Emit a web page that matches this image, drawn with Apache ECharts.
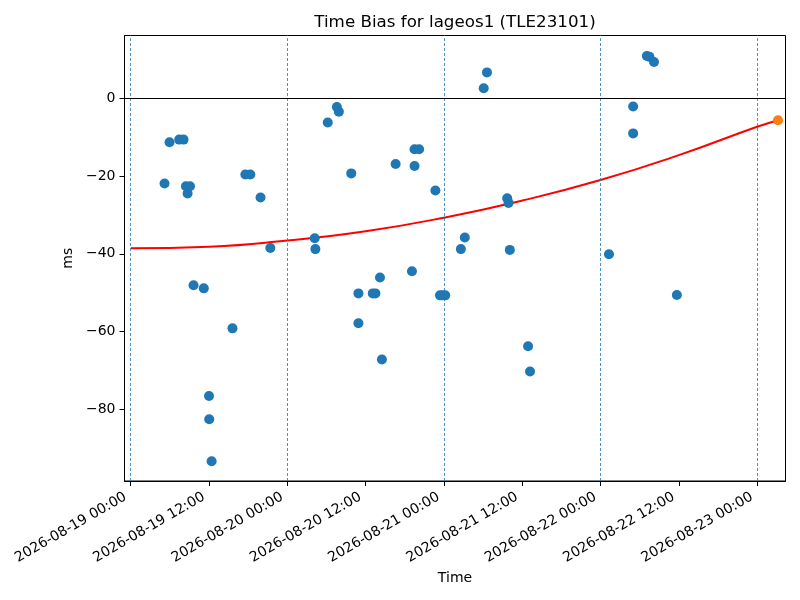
<!DOCTYPE html>
<html>
<head>
<meta charset="utf-8">
<script src="https://cdn.jsdelivr.net/npm/echarts@6/dist/echarts.min.js"></script>
<style>
  html, body { margin: 0; padding: 0; background: #fff; }
  #chart { width: 800px; height: 600px; }
</style>
</head>
<body>
<div id="chart"></div>
<script>
// observed bias points (UTC)
var biasTimes = [
    '2026-08-19 05:11', '2026-08-19 05:57', '2026-08-19 07:26', '2026-08-19 08:06',
    '2026-08-19 08:28', '2026-08-19 08:43', '2026-08-19 09:05', '2026-08-19 09:38',
    '2026-08-19 11:12', '2026-08-19 12:00', '2026-08-19 12:02', '2026-08-19 12:24',
    '2026-08-19 15:36', '2026-08-19 17:34', '2026-08-19 18:20', '2026-08-19 19:54',
    '2026-08-19 21:24', '2026-08-20 04:12', '2026-08-20 04:18', '2026-08-20 06:12',
    '2026-08-20 07:36', '2026-08-20 07:54', '2026-08-20 09:48', '2026-08-20 10:54',
    '2026-08-20 10:54', '2026-08-20 13:06', '2026-08-20 13:30', '2026-08-20 14:12',
    '2026-08-20 14:30', '2026-08-20 16:36', '2026-08-20 19:06', '2026-08-20 19:30',
    '2026-08-20 19:30', '2026-08-20 20:12', '2026-08-20 22:42', '2026-08-20 23:24',
    '2026-08-20 23:48', '2026-08-21 00:12', '2026-08-21 02:36', '2026-08-21 03:12',
    '2026-08-21 06:06', '2026-08-21 06:36', '2026-08-21 09:42', '2026-08-21 09:54',
    '2026-08-21 10:06', '2026-08-21 12:54', '2026-08-21 13:12', '2026-08-22 01:18',
    '2026-08-22 05:00', '2026-08-22 05:00', '2026-08-22 07:06', '2026-08-22 07:30',
    '2026-08-22 08:12', '2026-08-22 11:42'
];
var biasValues = [
    -21.9, -11.3, -10.6, -10.6,
    -22.6, -24.5, -22.6, -48.1,
    -48.9, -76.6, -82.6, -93.4,
    -59.2, -19.6, -19.6, -25.5,
    -38.5, -36.0, -38.8, -6.2,
    -2.2, -3.4, -19.3, -50.2,
    -57.9, -50.2, -50.2, -46.1,
    -67.2, -16.9, -44.5, -13.1,
    -17.4, -13.1, -23.7, -50.7,
    -50.7, -50.7, -38.8, -35.8,
    2.6, 6.7, -25.7, -26.9,
    -39.0, -63.8, -70.3, -40.1,
    -2.1, -9.0, 10.9, 10.7,
    9.4, -50.6
];

// fitted curve
var fitTimes = [
    '2026-08-19 00:00', '2026-08-19 12:00', '2026-08-20 00:00', '2026-08-20 12:00',
    '2026-08-21 00:00', '2026-08-21 12:00', '2026-08-22 00:00', '2026-08-22 12:00',
    '2026-08-23 00:00', '2026-08-23 03:12'
];
var fitValues = [-38.6, -38.2, -36.6, -34.2, -30.7, -26.3, -21.0, -14.6, -7.3, -5.6];

// predicted point
var predTimes = ['2026-08-23 03:12'];
var predValues = [-5.6];

var dayLines = ['2026-08-19 00:00', '2026-08-20 00:00', '2026-08-21 00:00', '2026-08-22 00:00', '2026-08-23 00:00'];
var xTicks = [
    '2026-08-19 00:00', '2026-08-19 12:00', '2026-08-20 00:00', '2026-08-20 12:00',
    '2026-08-21 00:00', '2026-08-21 12:00', '2026-08-22 00:00', '2026-08-22 12:00',
    '2026-08-23 00:00'
];
var yTicks = [-80, -60, -40, -20, 0];

function toTs(s) {
    var p = s.split(/[- :]/).map(Number);
    return Date.UTC(p[0], p[1] - 1, p[2], p[3], p[4]);
}
function pad(n) { return (n < 10 ? '0' : '') + n; }
function fmtTs(v) {
    var d = new Date(v);
    return d.getUTCFullYear() + '-' + pad(d.getUTCMonth() + 1) + '-' + pad(d.getUTCDate()) +
        ' ' + pad(d.getUTCHours()) + ':' + pad(d.getUTCMinutes());
}
function pairs(times, values) {
    return times.map(function(t, i) { return [toTs(t), values[i]]; });
}

var hour = 3600 * 1000;
var xMin = toTs('2026-08-19 00:00') - 0.95 * hour;
var xMax = toTs('2026-08-19 00:00') + 100.35 * hour;
var font = 'DejaVu Sans';

var chart = echarts.init(document.getElementById('chart'), null, { renderer: 'canvas' });

var option = {
    backgroundColor: '#fff',
    animation: false,
    title: {
        text: 'Time Bias for lageos1 (TLE23101)',
        left: 450,
        top: 9,
        textAlign: 'center',
        textStyle: { fontFamily: font, fontSize: 16.7, fontWeight: 'normal', color: '#000' }
    },
    grid: {
        left: 124.5, right: 14.5, top: 35.5, bottom: 119,
        show: true, borderColor: '#000', borderWidth: 1, backgroundColor: 'transparent'
    },
    xAxis: {
        type: 'value',
        min: xMin,
        max: xMax,
        name: 'Time',
        nameLocation: 'middle',
        nameGap: 90,
        nameTextStyle: { fontFamily: font, fontSize: 14, color: '#000' },
        axisLine: { show: true, onZero: false, lineStyle: { color: '#000', width: 1 } },
        axisTick: { show: true, length: 5, lineStyle: { color: '#000' }, customValues: xTicks.map(toTs) },
        axisLabel: {
            rotate: 30,
            margin: 12,
            fontFamily: font, fontSize: 14, color: '#000',
            customValues: xTicks.map(toTs),
            formatter: function(v) { return '{t|' + fmtTs(v) + '}'; },
            rich: { t: { fontFamily: font, fontSize: 14, color: '#000', padding: [0, 6, 0, 0] } }
        },
        splitLine: { show: false }
    },
    yAxis: {
        type: 'value',
        min: -98.5,
        max: 16.2,
        name: 'ms',
        nameLocation: 'middle',
        nameGap: 44,
        nameTextStyle: { fontFamily: font, fontSize: 14, color: '#000' },
        axisLine: { show: true, onZero: false, lineStyle: { color: '#000', width: 1 } },
        axisTick: { show: true, length: 5, lineStyle: { color: '#000' }, customValues: yTicks },
        axisLabel: {
            margin: 9,
            fontFamily: font, fontSize: 14, color: '#000',
            customValues: yTicks,
            formatter: function(v) { return String(v).replace('-', '\u2212'); }
        },
        splitLine: { show: false }
    },
    series: [
        {
            name: 'fit',
            type: 'line',
            data: pairs(fitTimes, fitValues),
            smooth: true,
            showSymbol: false,
            lineStyle: { color: '#ff0000', width: 2 },
            z: 3,
            markLine: {
                silent: true,
                symbol: 'none',
                label: { show: false },
                data: dayLines.map(function(t) {
                    return { xAxis: toTs(t), lineStyle: { color: '#1f77b4', width: 0.8, type: [3, 2] } };
                }).concat([{ yAxis: 0, lineStyle: { color: '#000', width: 1, type: 'solid' } }])
            }
        },
        {
            name: 'bias',
            type: 'scatter',
            data: pairs(biasTimes, biasValues),
            symbolSize: 10,
            itemStyle: { color: '#1f77b4', opacity: 1 },
            z: 4
        },
        {
            name: 'predicted',
            type: 'scatter',
            data: pairs(predTimes, predValues),
            symbolSize: 10,
            itemStyle: { color: '#ff7f0e', opacity: 1 },
            z: 5
        }
    ]
};
chart.setOption(option);

window.addEventListener('resize', function() {
    chart.resize();
});
</script>
</body>
</html>
